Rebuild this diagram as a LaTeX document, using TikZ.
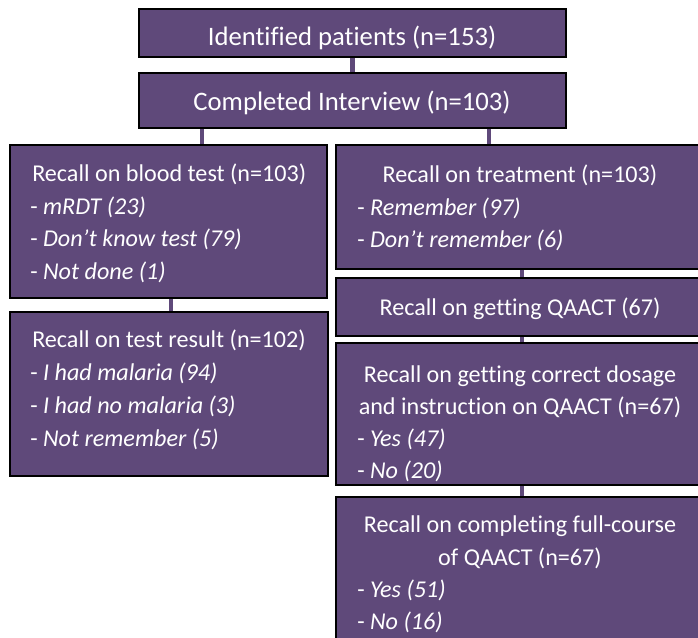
\documentclass[tikz,border=0pt]{standalone}
\usepackage{fontspec}
\setmainfont[Ligatures=NoCommon]{Carlito}
\usetikzlibrary{backgrounds}
\definecolor{boxpurple}{HTML}{5F497A}
\begin{document}
\begin{tikzpicture}[x=0.75pt,y=-0.75pt,
  box/.style={draw=black,line width=1.1pt,fill=boxpurple,rectangle,inner sep=0pt,outer sep=0pt,anchor=north west},
  txt/.style={text=white,inner sep=0pt,font=\fontsize{18.1}{21}\selectfont},
  big/.style={font=\fontsize{20}{24}\selectfont},
  tl/.style={txt,anchor=base west},
  tc/.style={txt,anchor=base},
  conn/.style={draw=boxpurple,line width=3.6pt}]
\useasboundingbox (0,0) rectangle (698,637);
\clip (0,0) rectangle (698,637);

% boxes
\node[box,minimum width=320.25pt,minimum height=36pt] (A) at (139,9) {};
\node[box,minimum width=320.25pt,minimum height=41.25pt] (B) at (139,73) {};
\node[box,minimum width=237.75pt,minimum height=114.75pt] (L1) at (10,145) {};
\node[box,minimum width=238.5pt,minimum height=123pt] (L2) at (10,312) {};
\node[box,minimum width=279pt,minimum height=93pt] (R1) at (336,145) {};
\node[box,minimum width=279pt,minimum height=43.5pt] (R2) at (336,278) {};
\node[box,minimum width=279pt,minimum height=106.5pt] (R3) at (336,343) {};
\node[box,minimum width=279pt,minimum height=127.5pt] (R4) at (336,497) {};

% connectors
\begin{scope}[on background layer]
\draw[conn] (A.south) -- (B.north);
\draw[conn] (B.south -| 202,0) -- (L1.north -| 202,0);
\draw[conn] (B.south -| 489,0) -- (R1.north -| 489,0);
\draw[conn] (L1.south -| 171,0) -- (L2.north -| 171,0);
\draw[conn] (R1.south -| 522,0) -- (R2.north -| 522,0);
\draw[conn] (R2.south -| 522,0) -- (R3.north -| 522,0);
\draw[conn] (R3.south -| 522,0) -- (R4.north -| 522,0);
\end{scope}

% texts
\node[tc,big] (tA) at (352,45) {Identified patients (n=153)};
\node[tc,big] (tB) at (352,110) {Completed Interview (n=103)};

\node[tl] (tL1) at (32,181) {Recall on blood test (n=103)};
\node[tl] (tL1a) at (30,214) {- \textit{mRDT (23)}};
\node[tl] (tL1b) at (30,246) {- \textit{Don’t know test (79)}};
\node[tl] (tL1c) at (30,279) {- \textit{Not done (1)}};

\node[tl] (tL2) at (32,347) {Recall on test result (n=102)};
\node[tl] (tL2a) at (30,380) {- \textit{I had malaria (94)}};
\node[tl] (tL2b) at (30,413) {- \textit{I had no malaria (3)}};
\node[tl] (tL2c) at (30,446) {- \textit{Not remember (5)}};

\node[tc] (tR1) at (520,182) {Recall on treatment (n=103)};
\node[tl] (tR1a) at (357,215) {- \textit{Remember (97)}};
\node[tl] (tR1b) at (357,247) {- \textit{Don’t remember (6)}};

\node[tc] (tR2) at (520,315) {Recall on getting QAACT (67)};

\node[tc] (tR3) at (520,382) {Recall on getting correct dosage};
\node[tc] (tR3b) at (520,414) {and instruction on QAACT (n=67)};
\node[tl] (tR3c) at (357,446) {- \textit{Yes (47)}};
\node[tl] (tR3d) at (357,478) {- \textit{No (20)}};

\node[tc] (tR4) at (520,532) {Recall on completing full-course};
\node[tc] (tR4b) at (520,565) {of QAACT (n=67)};
\node[tl] (tR4c) at (357,597) {- \textit{Yes (51)}};
\node[tl] (tR4d) at (357,629) {- \textit{No (16)}};
\end{tikzpicture}
\end{document}
